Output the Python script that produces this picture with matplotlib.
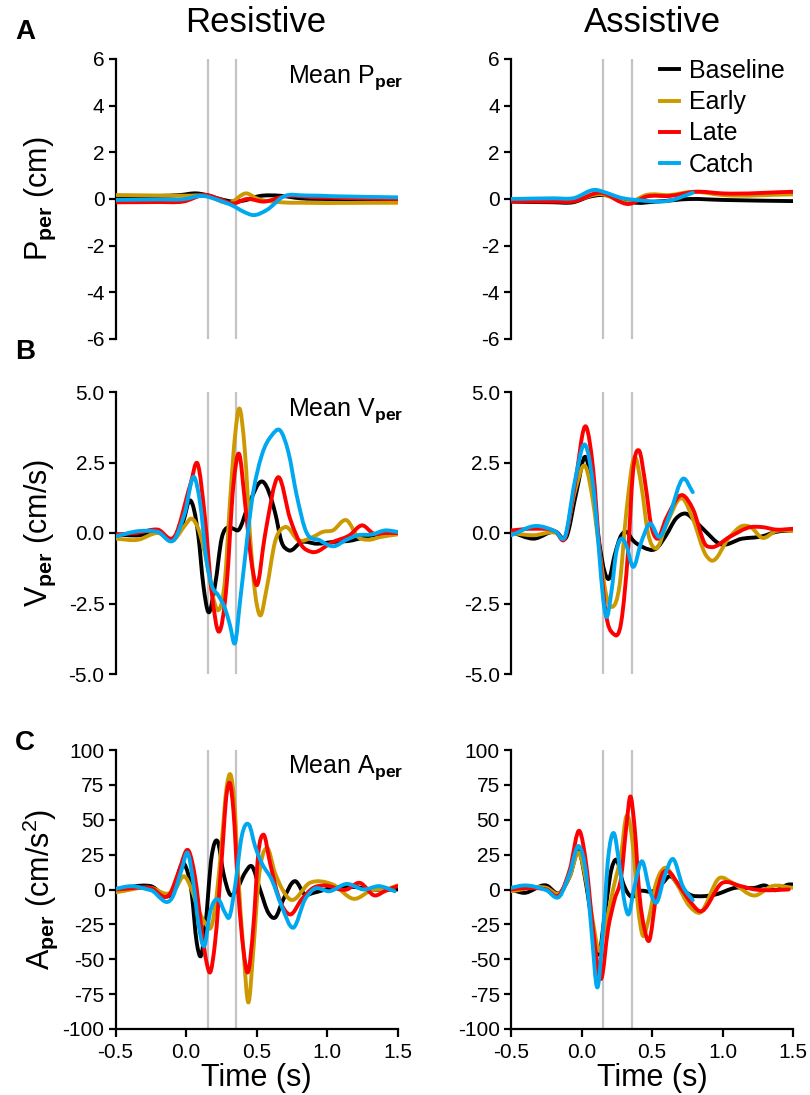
import numpy as np
import matplotlib.pyplot as plt
from matplotlib.path import Path
from matplotlib.patches import PathPatch
from matplotlib.lines import Line2D

plt.rcParams['font.family'] = ['Liberation Sans', 'DejaVu Sans']
plt.rcParams['mathtext.fontset'] = 'custom'
plt.rcParams['mathtext.rm'] = 'Liberation Sans'
plt.rcParams['mathtext.it'] = 'Liberation Sans'
plt.rcParams['mathtext.bf'] = 'Liberation Sans:bold'

conditions = ['Baseline', 'Early', 'Late', 'Catch']
colors = ['#000000', '#CC9A00', '#FF0000', '#00A8F0']
marker_times = [0.155, 0.355]

# ---- Resistive, perpendicular position (cm) ----
res_p_base_t = [-0.5, -0.2, -0.04, 0.075, 0.146, 0.24, 0.336, 0.407, 0.525, 0.667, 0.81, 1.0, 1.5]
res_p_base = [0.13, 0.13, 0.17, 0.24, 0.17, 0.0, -0.11, -0.07, 0.13, 0.14, 0.03, 0.0, -0.04]
res_p_early_t = [-0.5, -0.2, 0.0, 0.146, 0.312, 0.43, 0.5, 0.667, 0.81, 1.5]
res_p_early = [0.17, 0.15, 0.14, 0.14, -0.16, 0.24, 0.03, -0.14, -0.16, -0.16]
res_p_late_t = [-0.5, -0.2, -0.02, 0.146, 0.24, 0.336, 0.43, 0.55, 0.71, 0.9, 1.5]
res_p_late = [-0.14, -0.13, -0.11, 0.17, -0.01, -0.19, 0.0, -0.11, 0.13, 0.08, 0.0]
res_p_catch_t = [-0.5, -0.2, -0.02, 0.12, 0.24, 0.336, 0.407, 0.478, 0.573, 0.69, 0.85, 1.04, 1.5]
res_p_catch = [-0.04, -0.02, -0.01, 0.13, -0.07, -0.3, -0.54, -0.69, -0.47, 0.1, 0.15, 0.12, 0.07]

# ---- Assistive, perpendicular position (cm) ----
ast_p_base_t = [-0.5, -0.2, -0.06, 0.058, 0.13, 0.294, 0.365, 0.53, 0.77, 1.0, 1.5]
ast_p_base = [-0.11, -0.14, -0.14, 0.1, 0.17, 0.0, -0.14, -0.11, 0.0, -0.04, -0.09]
ast_p_early_t = [-0.5, -0.2, -0.06, 0.13, 0.341, 0.459, 0.624, 0.79, 1.0, 1.5]
ast_p_early = [-0.04, -0.07, -0.07, 0.21, -0.14, 0.17, 0.17, 0.31, 0.17, 0.2]
ast_p_late_t = [-0.5, -0.2, -0.06, 0.13, 0.341, 0.459, 0.624, 0.813, 1.0, 1.5]
ast_p_late = [-0.11, -0.11, -0.11, 0.27, -0.21, 0.1, 0.13, 0.31, 0.24, 0.31]
ast_p_catch_t = [-0.5, -0.2, -0.06, 0.106, 0.153, 0.294, 0.388, 0.624, 0.79]
ast_p_catch = [0.0, 0.03, 0.03, 0.39, 0.31, 0.03, -0.04, -0.07, 0.27]

# ---- Resistive, perpendicular velocity (cm/s) ----
res_v_base_t = [-0.5, -0.33, -0.2, -0.078, -0.02, 0.028, 0.087, 0.123, 0.158, 0.206, 0.253, 0.30,
                0.336, 0.371, 0.442, 0.548, 0.631, 0.678, 0.726, 0.82, 0.927, 1.04, 1.18, 1.27,
                1.41, 1.5]
res_v_base = [-0.05, -0.08, 0.04, -0.2, 0.4, 1.16, -0.08, -1.85, -2.8, -1.85, -0.19, 0.21,
              0.15, 0.1, 0.98, 1.81, 0.74, -0.32, -0.61, -0.32, -0.38, -0.32, -0.26, -0.14,
              -0.02, 0.0]
res_v_early_t = [-0.5, -0.34, -0.2, -0.078, -0.007, 0.04, 0.087, 0.147, 0.194, 0.229, 0.277,
                 0.312, 0.348, 0.376, 0.418, 0.454, 0.489, 0.525, 0.572, 0.631, 0.702, 0.797,
                 0.9, 0.97, 1.04, 1.14, 1.22, 1.29, 1.38, 1.5]
res_v_early = [-0.2, -0.24, 0.0, -0.2, 0.27, 0.51, 0.15, -1.03, -2.32, -2.74, -1.62,
               1.1, 3.46, 4.41, 2.87, -0.08, -2.09, -2.92, -1.97, -0.32, 0.21, -0.26,
               -0.14, 0.04, 0.09, 0.45, -0.14, -0.24, -0.14, -0.05]
res_v_late_t = [-0.5, -0.35, -0.2, -0.078, 0.03, 0.082, 0.135, 0.182, 0.234, 0.288, 0.336,
                0.376, 0.418, 0.461, 0.501, 0.56, 0.655, 0.738, 0.82, 0.89, 1.04, 1.16, 1.25,
                1.33, 1.41, 1.5]
res_v_late = [-0.05, 0.0, 0.12, -0.1, 1.7, 2.46, 0.51, -2.09, -3.5, -1.85, 1.69,
              2.81, 1.1, -0.91, -1.85, -0.08, 1.98, 0.51, -0.44, -0.67, -0.32, -0.08, 0.27,
              -0.02, 0.0, 0.0]
res_v_catch_t = [-0.5, -0.33, -0.2, -0.078, -0.007, 0.059, 0.099, 0.147, 0.182, 0.229, 0.277,
                 0.312, 0.348, 0.383, 0.418, 0.466, 0.537, 0.608, 0.667, 0.726, 0.785, 0.844,
                 0.95, 1.05, 1.13, 1.22, 1.32, 1.41, 1.5]
res_v_catch = [-0.12, 0.07, 0.04, -0.2, 0.74, 1.98, 1.1, -1.03, -1.85, -2.21, -2.68,
               -3.27, -3.9, -2.44, -0.91, 1.1, 2.75, 3.46, 3.64, 2.87, 1.34, 0.15,
               -0.26, -0.47, -0.26, -0.08, -0.05, 0.09, 0.04]

# ---- Assistive, perpendicular velocity (cm/s) ----
ast_v_base_t = [-0.5, -0.34, -0.18, -0.107, -0.036, 0.03, 0.082, 0.125, 0.164, 0.195, 0.235,
                0.282, 0.318, 0.365, 0.435, 0.53, 0.6, 0.67, 0.737, 0.812, 0.883, 0.977, 1.14,
                1.28, 1.38, 1.5]
ast_v_base = [0.04, -0.2, 0.04, -0.14, 1.45, 2.69, 1.34, -0.32, -1.38, -1.62, -0.79,
              -0.08, 0.04, -0.26, -0.5, -0.55, -0.08, 0.51, 0.69, 0.39, 0.04, -0.38, -0.2,
              -0.12, 0.04, 0.09]
ast_v_early_t = [-0.5, -0.34, -0.18, -0.118, -0.048, 0.03, 0.082, 0.129, 0.176, 0.219, 0.27,
                 0.318, 0.376, 0.424, 0.47, 0.53, 0.6, 0.718, 0.789, 0.883, 0.918, 1.05, 1.14,
                 1.2, 1.28, 1.38, 1.5]
ast_v_early = [0.0, -0.08, 0.0, -0.15, 1.45, 2.34, 1.1, -0.67, -2.21, -2.62, -1.85,
               0.74, 2.69, 1.69, 0.04, -0.55, 0.27, 1.22, 0.51, -0.79, -0.97, -0.14, 0.25,
               0.21, -0.17, 0.07, 0.07]
ast_v_late_t = [-0.5, -0.34, -0.18, -0.118, -0.048, 0.035, 0.082, 0.129, 0.171, 0.223, 0.282,
                0.33, 0.365, 0.407, 0.454, 0.494, 0.534, 0.6, 0.718, 0.789, 0.883, 0.918, 1.05,
                1.2, 1.28, 1.38, 1.5]
ast_v_late = [0.09, 0.15, 0.04, -0.2, 1.69, 3.75, 2.28, -0.67, -2.8, -3.56, -3.15,
              -0.67, 2.16, 2.93, 1.69, 0.27, -0.2, 0.51, 1.34, 0.86, -0.44, -0.5, -0.14,
              0.21, 0.21, 0.12, 0.15]
ast_v_catch_t = [-0.5, -0.32, -0.18, -0.118, -0.048, 0.03, 0.082, 0.125, 0.153, 0.176, 0.212,
                 0.247, 0.282, 0.318, 0.365, 0.424, 0.483, 0.554, 0.624, 0.723, 0.789]
ast_v_catch = [-0.08, 0.25, 0.04, -0.14, 1.81, 3.1, 1.69, -0.67, -2.32, -2.97, -2.09,
               -0.67, -0.2, -0.44, -1.2, -0.32, 0.33, -0.14, 0.63, 1.93, 1.45]

# ---- Resistive, perpendicular acceleration (cm/s^2) ----
res_a_base_t = [-0.5, -0.25, -0.102, -0.01, 0.04, 0.076, 0.106, 0.135, 0.182, 0.224, 0.265,
                0.312, 0.36, 0.418, 0.466, 0.525, 0.584, 0.631, 0.69, 0.773, 0.844, 0.903,
                1.04, 1.18, 1.33, 1.5]
res_a_base = [0, 2.4, -3, 18, -2.4, -38, -47.6, -28.6, 23.8, 34.6, 11.9,
              -3.6, 0, 11.9, 16.7, 0, -16.7, -20.2, -7.1, 6, -3.6, -2.4,
              1.2, 1.9, 0, 0]
res_a_early_t = [-0.5, -0.25, -0.11, -0.078, -0.012, 0.04, 0.087, 0.135, 0.182, 0.217, 0.253,
                 0.289, 0.317, 0.343, 0.371, 0.407, 0.442, 0.478, 0.513, 0.572, 0.631, 0.738,
                 0.879, 1.04, 1.19, 1.33, 1.41, 1.5]
res_a_early = [-2, 1.2, -2.4, 0, 9.5, 0, -14.3, -23.8, -26, -4.8, 33.3,
               73.8, 82.1, 61.9, 9.5, -42.9, -81, -42.9, 4.8, 29.8, 11.9, -7.1,
               4.8, 3.6, -6.7, 0, 0, 2.9]
res_a_late_t = [-0.5, -0.25, -0.11, -0.054, 0.021, 0.063, 0.111, 0.146, 0.17, 0.206, 0.253,
                0.289, 0.312, 0.336, 0.371, 0.407, 0.437, 0.478, 0.513, 0.549, 0.596, 0.655,
                0.738, 0.82, 0.903, 0.974, 1.14, 1.23, 1.34, 1.41, 1.5]
res_a_late = [0, 1, -2.4, 11.9, 27.4, 9.5, -28.6, -52.4, -59.5, -38, 21.4,
              69, 76.2, 57, -2.4, -42.9, -59.5, -26.2, 26.2, 39.3, 19, -4.8,
              -17.9, -7.1, 1.2, 2.9, 0, 4.8, -4.3, -1.2, 2.4]
res_a_catch_t = [-0.5, -0.39, -0.25, -0.09, -0.031, 0.012, 0.052, 0.087, 0.13, 0.17, 0.229,
                 0.277, 0.305, 0.348, 0.395, 0.447, 0.49, 0.537, 0.608, 0.678, 0.761, 0.844,
                 0.903, 1.02, 1.14, 1.26, 1.37, 1.48]
res_a_catch = [0.5, 2.4, -0.5, -4.3, 14.3, 26.2, 4.8, -23.8, -40.5, -16.7, -7.1,
               -16.7, -20.2, 2.4, 38.1, 46.4, 31, 19, 7.1, -11.9, -27.4, -7.1,
               0, -1.2, 4, 0, 2.4, -1.2]

# ---- Assistive, perpendicular acceleration (cm/s^2) ----
ast_a_base_t = [-0.5, -0.41, -0.25, -0.154, -0.083, -0.017, 0.035, 0.082, 0.124, 0.164, 0.212,
                0.247, 0.294, 0.353, 0.412, 0.506, 0.577, 0.624, 0.695, 0.766, 0.86, 0.95,
                1.09, 1.23, 1.3, 1.37, 1.47, 1.5]
ast_a_base = [0, -2.4, 2.9, -2.4, 9.5, 27, 2.4, -28.6, -46.4, -19, 14.3,
              21.4, 4.8, -5.2, -1.2, -1.2, 4.8, 9.5, 2.4, -3.6, -4.8, -3.6,
              1.2, 1.2, 2.9, -0.5, 3.6, 3.6]
ast_a_early_t = [-0.5, -0.25, -0.154, -0.083, -0.017, 0.035, 0.082, 0.124, 0.164, 0.224, 0.282,
                 0.318, 0.365, 0.4, 0.436, 0.47, 0.53, 0.589, 0.671, 0.766, 0.836, 0.98,
                 1.07, 1.23, 1.35, 1.5]
ast_a_early = [-1.2, 1.2, -2.4, 9.5, 26.2, 4.8, -23.8, -44, -28.6, 0, 26.2,
               52.4, 31, -11.9, -33.3, -23.8, 4.8, 15.5, 4.8, -11.9, -16.7, 8.3,
               4.8, -4.3, 2.4, 1.2]
ast_a_late_t = [-0.5, -0.4, -0.25, -0.154, -0.083, -0.012, 0.035, 0.082, 0.14, 0.188, 0.235,
                0.282, 0.318, 0.346, 0.376, 0.412, 0.447, 0.478, 0.53, 0.577, 0.612, 0.695,
                0.777, 0.836, 1.0, 1.13, 1.23, 1.3, 1.47]
ast_a_late = [0, 1, 0, -3.6, 14.3, 41.7, 16.7, -28.6, -64, -28.6, -7.1,
              9.5, 45.2, 66.7, 45.2, -4.8, -28.6, -36.9, -4.8, 11.9, 13, 2.4,
              -9.5, -15.5, 4.8, 2.4, 0, -0.5, 0]
ast_a_catch_t = [-0.5, -0.41, -0.25, -0.154, -0.083, -0.017, 0.035, 0.07, 0.113, 0.153, 0.188,
                 0.228, 0.27, 0.306, 0.33, 0.376, 0.43, 0.482, 0.53, 0.589, 0.648, 0.718, 0.789]
ast_a_catch = [1.2, 2.9, -0.5, -4.8, 11.9, 31, 9.5, -28.6, -70.2, -28.6, 21.4,
               40.5, 16.7, -9.5, -17.9, 2.4, 20.2, 0, -9.5, 9.5, 21.9, 2.4, -7.6]

panels = [
    [[(res_p_base_t, res_p_base), (res_p_early_t, res_p_early),
      (res_p_late_t, res_p_late), (res_p_catch_t, res_p_catch)],
     [(ast_p_base_t, ast_p_base), (ast_p_early_t, ast_p_early),
      (ast_p_late_t, ast_p_late), (ast_p_catch_t, ast_p_catch)]],
    [[(res_v_base_t, res_v_base), (res_v_early_t, res_v_early),
      (res_v_late_t, res_v_late), (res_v_catch_t, res_v_catch)],
     [(ast_v_base_t, ast_v_base), (ast_v_early_t, ast_v_early),
      (ast_v_late_t, ast_v_late), (ast_v_catch_t, ast_v_catch)]],
    [[(res_a_base_t, res_a_base), (res_a_early_t, res_a_early),
      (res_a_late_t, res_a_late), (res_a_catch_t, res_a_catch)],
     [(ast_a_base_t, ast_a_base), (ast_a_early_t, ast_a_early),
      (ast_a_late_t, ast_a_late), (ast_a_catch_t, ast_a_catch)]],
]

y_limits = [(-6, 6), (-5, 5), (-100, 100)]
y_ticks = [np.arange(-6, 7, 2), np.arange(-5, 5.1, 2.5), np.arange(-100, 101, 25)]
y_fmt = ['{:.0f}', '{:.1f}', '{:.0f}']
x_ticks = [-0.5, 0.0, 0.5, 1.0, 1.5]
y_labels = [r'P$_{\mathbf{per}}$ (cm)', r'V$_{\mathbf{per}}$ (cm/s)',
            r'A$_{\mathbf{per}}$ (cm/s$^2$)']
mean_labels = [r'Mean P$_{\mathbf{per}}$', r'Mean V$_{\mathbf{per}}$',
               r'Mean A$_{\mathbf{per}}$']
row_letters = ['A', 'B', 'C']


def smooth_path(t, v):
    # smoothed line through the samples (cubic Hermite segments as Bezier curves)
    t = np.asarray(t, float)
    v = np.asarray(v, float)
    m = np.gradient(v, t)
    verts = [(t[0], v[0])]
    codes = [Path.MOVETO]
    for i in range(len(t) - 1):
        h = (t[i + 1] - t[i]) / 3
        verts += [(t[i] + h, v[i] + h * m[i]),
                  (t[i + 1] - h, v[i + 1] - h * m[i + 1]),
                  (t[i + 1], v[i + 1])]
        codes += [Path.CURVE4] * 3
    return Path(verts, codes)


W, H = 810, 1095
fig = plt.figure(figsize=(W / 100, H / 100), dpi=100)
col_left = [115.5, 511]
col_width = 282
row_top = [59, 392, 750]
row_height = [280, 282, 279]
letter_y = [32, 352, 743]

for r in range(3):
    for c in range(2):
        ax = fig.add_axes([col_left[c] / W, 1 - (row_top[r] + row_height[r]) / H,
                           col_width / W, row_height[r] / H])
        for tm in marker_times:
            ax.axvline(tm, color='#c4c4c4', lw=1.6, zorder=1)
        for (t, v), col in zip(panels[r][c], colors):
            ax.add_patch(PathPatch(smooth_path(t, v), fill=False, edgecolor=col,
                                   lw=2.8, capstyle='round', joinstyle='round', zorder=3))
        ax.set_xlim(-0.5, 1.5)
        ax.set_ylim(*y_limits[r])
        ax.set_yticks(y_ticks[r])
        ax.set_yticklabels([y_fmt[r].format(y) for y in y_ticks[r]])
        for s in ['top', 'right']:
            ax.spines[s].set_visible(False)
        ax.spines['left'].set_linewidth(1.6)
        ax.spines['bottom'].set_linewidth(1.6)
        ax.tick_params(axis='y', direction='out', length=5, width=1.6, labelsize=15, pad=3)
        if r < 2:
            ax.spines['bottom'].set_visible(False)
            ax.set_xticks([])
        else:
            ax.set_xticks(x_ticks)
            ax.set_xticklabels(['{:.1f}'.format(x) for x in x_ticks])
            ax.tick_params(axis='x', direction='out', length=6, width=1.6, labelsize=15, pad=4)
            ax.set_xlabel('Time (s)', fontsize=22, labelpad=1)
        if c == 0:
            ax.text(0.61, 0.935, mean_labels[r], transform=ax.transAxes,
                    fontsize=18, ha='left', va='center')
        if r == 0 and c == 1:
            handles = [Line2D([], [], color=col, lw=2.8) for col in colors]
            ax.legend(handles, conditions, loc='upper left', bbox_to_anchor=(0.528, 1.0),
                      frameon=False, fontsize=18, handlelength=0.75, handletextpad=0.4,
                      labelspacing=0.29, borderpad=0, borderaxespad=0)

    fig.text(40 / W, 1 - (row_top[r] + row_height[r] / 2) / H, y_labels[r],
             rotation=90, ha='center', va='center', fontsize=22)
    fig.text(25 / W, 1 - letter_y[r] / H, row_letters[r],
             fontsize=20, fontweight='bold', ha='center', va='center')

fig.text(256 / W, 1 - 22 / H, 'Resistive', fontsize=25, ha='center', va='center')
fig.text(652 / W, 1 - 22 / H, 'Assistive', fontsize=25, ha='center', va='center')

fig.savefig('out.png', dpi=100)
